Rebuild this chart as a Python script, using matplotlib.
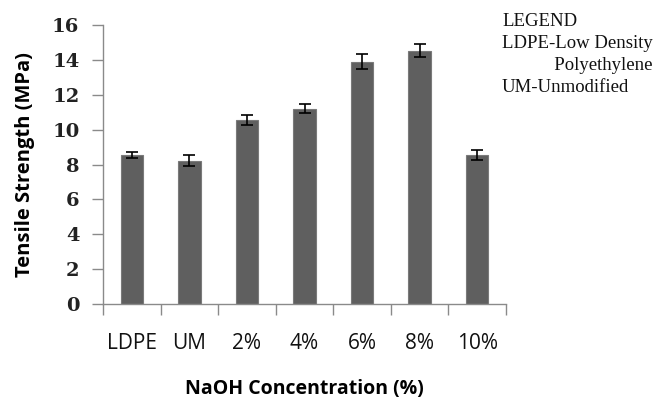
import numpy as np
import matplotlib.pyplot as plt

categories = ['LDPE', 'UM', '2%', '4%', '6%', '8%', '10%']
strength = [8.55, 8.22, 10.55, 11.2, 13.9, 14.53, 8.55]
errors = [0.17, 0.33, 0.3, 0.25, 0.45, 0.37, 0.28]
legend_lines = ['LEGEND', 'LDPE-Low Density', '           Polyethylene', 'UM-Unmodified']

fig = plt.figure(figsize=(6.67, 3.98), dpi=100)
ax = fig.add_axes([103 / 667, 1 - 304 / 398, 403 / 667, 279 / 398])

x = np.arange(len(categories))
ax.bar(x, strength, width=0.39, color='#5f5f5f', edgecolor='#7a7a7a', linewidth=0.8,
       yerr=errors, error_kw=dict(ecolor='black', elinewidth=1.2, capsize=4, capthick=1.2))

ax.set_xlim(-0.5, len(categories) - 0.5)
ax.set_ylim(0, 16)
ax.set_yticks(np.arange(0, 17, 2))
ax.set_yticklabels([str(v) for v in range(0, 17, 2)], fontfamily='DejaVu Serif',
                   fontsize=14, fontweight='bold', color='#222222')

# tick marks between categories, labels under the bars
ax.set_xticks(np.arange(-0.5, len(categories), 1))
ax.set_xticklabels([])
ax.set_xticks(x, minor=True)
ax.set_xticklabels(categories, minor=True, fontfamily='Open Sans', fontsize=15, color='#111111')
ax.tick_params(axis='x', which='major', length=8, width=1, color='#8a8a8a', direction='out')
ax.tick_params(axis='x', which='minor', length=0, pad=21)
ax.tick_params(axis='y', length=8, width=1, color='#8a8a8a', pad=9)

for s in ['top', 'right']:
    ax.spines[s].set_visible(False)
for s in ['left', 'bottom']:
    ax.spines[s].set_color('#8a8a8a')
    ax.spines[s].set_linewidth(1)

ax.set_ylabel('Tensile Strength (MPa)', fontfamily='Open Sans', fontweight='bold', fontsize=14.5,
              labelpad=12)
ax.set_xlabel('NaOH Concentration (%)', fontfamily='Open Sans', fontweight='bold', fontsize=14,
              labelpad=18)

for i, line in enumerate(legend_lines):
    fig.text(502 / 667, 1 - (21 + i * 22) / 398, line, fontfamily='Liberation Serif',
             fontsize=13.5, va='center', ha='left', color='#111111')

fig.savefig('out.png', dpi=100)
